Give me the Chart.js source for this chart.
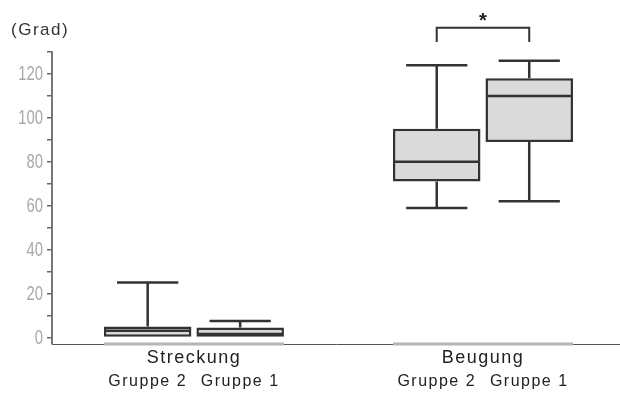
<!DOCTYPE html>
<html>
<head>
<meta charset="utf-8">
<script src="https://cdn.jsdelivr.net/npm/chart.js@4.4.1/dist/chart.umd.min.js"></script>
<style>
  html, body { margin: 0; padding: 0; background: #fff; }
  #wrap { width: 620px; height: 393px; }
</style>
</head>
<body>
<div id="wrap"><canvas id="boxChart"></canvas></div>
<script>
// Kategorien und Gruppen
const categories = ['Streckung', 'Beugung'];
const groups = ['Gruppe 2', 'Gruppe 1'];

// Boxplot-Werte (Grad), je Kategorie
const g2Min    = [0, 59];
const g2Q1     = [0, 71];
const g2Median = [3, 80];
const g2Q3     = [5, 95];
const g2Max    = [25, 124];

const g1Min    = [0, 62];
const g1Q1     = [0, 89];
const g1Median = [1.5, 110];
const g1Q3     = [4.5, 118];
const g1Max    = [7.5, 126];

// Signifikanz-Klammer (Beugung)
const sigCategory = 1;
const sigLevel = 141;
const sigDrop = 134.5;
const sigStar = 145.5;

// y-Achse
const yMin = -3, yMax = 130, yStep = 10, yLabelStep = 20;

const stats = [
    { min: g2Min, q1: g2Q1, median: g2Median, q3: g2Q3, max: g2Max },
    { min: g1Min, q1: g1Q1, median: g1Median, q3: g1Q3, max: g1Max }
];

Chart.defaults.font.family = "'Liberation Sans', Arial, sans-serif";

const boxPlugin = {
    id: 'boxWhiskers',
    afterDatasetsDraw(chart) {
        const ctx = chart.ctx;
        const y = chart.scales.y;
        ctx.save();
        ctx.strokeStyle = '#333';
        ctx.lineWidth = 2.5;
        stats.forEach((s, di) => {
            chart.getDatasetMeta(di).data.forEach((bar, i) => {
                const half = bar.width / 2;
                const cap = bar.width * 0.35;
                const pMax = y.getPixelForValue(s.max[i]);
                const pQ3 = y.getPixelForValue(s.q3[i]);
                const pQ1 = y.getPixelForValue(s.q1[i]);
                const pMin = y.getPixelForValue(s.min[i]);
                const pMed = y.getPixelForValue(s.median[i]);
                ctx.beginPath();
                if (s.max[i] > s.q3[i]) {
                    ctx.moveTo(bar.x, pQ3); ctx.lineTo(bar.x, pMax);
                    ctx.moveTo(bar.x - cap, pMax); ctx.lineTo(bar.x + cap, pMax);
                }
                if (s.min[i] < s.q1[i]) {
                    ctx.moveTo(bar.x, pQ1); ctx.lineTo(bar.x, pMin);
                    ctx.moveTo(bar.x - cap, pMin); ctx.lineTo(bar.x + cap, pMin);
                }
                ctx.moveTo(bar.x - half + 1, pMed); ctx.lineTo(bar.x + half - 1, pMed);
                ctx.stroke();
            });
        });
        ctx.restore();
    },
    afterDraw(chart) {
        const ctx = chart.ctx;
        const y = chart.scales.y;
        const area = chart.chartArea;
        const m0 = chart.getDatasetMeta(0).data;
        const m1 = chart.getDatasetMeta(1).data;
        ctx.save();

        // graue Leiste unter den Boxen
        ctx.strokeStyle = '#b5b5b5';
        ctx.lineWidth = 3;
        categories.forEach((c, i) => {
            ctx.beginPath();
            ctx.moveTo(m0[i].x - m0[i].width / 2, area.bottom);
            ctx.lineTo(m1[i].x + m1[i].width / 2, area.bottom);
            ctx.stroke();
        });

        // schmale y-Beschriftung
        ctx.fillStyle = '#a8a8a8';
        ctx.textAlign = 'right';
        ctx.textBaseline = 'middle';
        ctx.font = "20px 'Liberation Sans', Arial, sans-serif";
        const sx = 0.74;
        y.ticks.forEach(t => {
            if (t.value % yLabelStep !== 0 || t.value >= yMax) return;
            ctx.save();
            ctx.translate(area.left - 9, y.getPixelForValue(t.value) + 1);
            ctx.scale(sx, 1);
            ctx.fillText(String(t.value), 0, 0);
            ctx.restore();
        });

        // Beschriftungen
        ctx.fillStyle = '#222';
        ctx.textAlign = 'center';
        ctx.letterSpacing = '1.5px';
        ctx.font = "18px 'Liberation Sans', Arial, sans-serif";
        categories.forEach((c, i) => {
            ctx.fillText(c, (m0[i].x + m1[i].x) / 2, area.bottom + 14);
        });
        ctx.font = "16px 'Liberation Sans', Arial, sans-serif";
        categories.forEach((c, i) => {
            ctx.fillText(groups[0], m0[i].x, area.bottom + 38);
            ctx.fillText(groups[1], m1[i].x, area.bottom + 38);
        });
        ctx.textAlign = 'left';
        ctx.fillStyle = '#333';
        ctx.font = "17px 'Liberation Sans', Arial, sans-serif";
        ctx.fillText('(Grad)', 11, 30);
        ctx.letterSpacing = '0px';

        // Signifikanz
        const xa = m0[sigCategory].x, xb = m1[sigCategory].x;
        const ys = y.getPixelForValue(sigLevel), yd = y.getPixelForValue(sigDrop);
        ctx.strokeStyle = '#333';
        ctx.lineWidth = 2;
        ctx.beginPath();
        ctx.moveTo(xa, yd); ctx.lineTo(xa, ys); ctx.lineTo(xb, ys); ctx.lineTo(xb, yd);
        ctx.stroke();
        ctx.fillStyle = '#222';
        ctx.textAlign = 'center';
        ctx.font = "bold 20px 'Liberation Sans', Arial, sans-serif";
        ctx.fillText('*', (xa + xb) / 2, y.getPixelForValue(sigStar) + 4);
        ctx.restore();
    }
};

const ctx = document.getElementById('boxChart').getContext('2d');
new Chart(ctx, {
    type: 'bar',
    data: {
        datasets: stats.map((s, di) => ({
            label: groups[di],
            data: categories.map((c, i) => ({ x: i, y: [s.q1[i], s.q3[i]] })),
            backgroundColor: '#dadada',
            borderColor: '#333',
            borderWidth: 2.5,
            borderSkipped: false,
            categoryPercentage: 0.64,
            barPercentage: 0.946
        }))
    },
    options: {
        responsive: true,
        maintainAspectRatio: false,
        animation: false,
        layout: { padding: { top: 52, left: 0, right: 0, bottom: 0 } },
        plugins: {
            legend: { display: false },
            tooltip: { enabled: false }
        },
        scales: {
            x: {
                type: 'linear',
                min: -0.491,
                max: 1.474,
                offset: false,
                grid: { display: false },
                border: { display: true, color: '#555', width: 1 },
                ticks: { display: false },
                afterBuildTicks: axis => { axis.ticks = categories.map((c, i) => ({ value: i })); },
                afterFit: axis => { axis.height = 49; }
            },
            y: {
                min: yMin,
                max: yMax,
                grid: { drawOnChartArea: false, drawTicks: true, tickLength: 5, color: '#666', lineWidth: 1.5 },
                border: { display: true, color: '#777', width: 2 },
                ticks: { display: false },
                afterBuildTicks: axis => {
                    const t = [];
                    for (let v = 0; v <= yMax; v += yStep) t.push({ value: v });
                    axis.ticks = t;
                },
                afterFit: axis => { axis.width = 52; }
            }
        }
    },
    plugins: [boxPlugin]
});
</script>
</body>
</html>
